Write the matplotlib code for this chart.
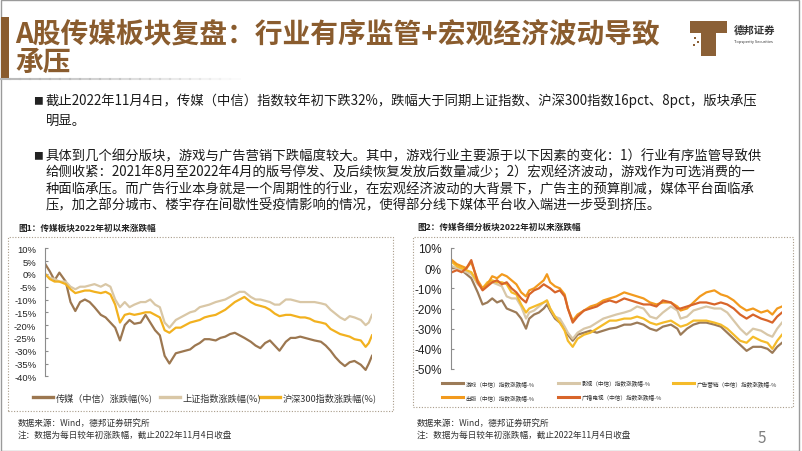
import matplotlib
matplotlib.use('Agg')
import matplotlib.pyplot as plt
from matplotlib.patches import Rectangle
from matplotlib.lines import Line2D

plt.rcParams['font.family'] = ['Noto Sans CJK SC', 'DejaVu Sans']

W, H = 802, 452
BROWN = '#8a5c2e'

# ---- chart 1: trading-day index since 2022-01-04, return since year start (%)
days1 = [0, 3, 6, 9, 13, 16, 19, 22, 25, 28, 31, 35, 38, 41, 44, 47, 50, 53, 56, 60,
         63, 66, 69, 72, 75, 78, 82, 85, 88, 91, 94, 97, 100, 103, 107, 110, 113, 116, 119, 122,
         125, 129, 132, 135, 138, 141, 144, 147, 151, 154, 157, 160, 163, 166, 169, 173, 176, 179, 182, 185,
         188, 191, 194, 198, 201, 203, 205]
media = [4, 1, -2.5, 0.5, -3, -11, -14.5, -11, -10, -11, -13, -16, -17, -19, -21, -26, -20, -18, -19.5, -19,
         -16, -19, -22, -24, -32, -35, -31, -30.5, -30, -29.5, -28, -27, -25.5, -25.5, -26, -25, -24.5, -23.5, -23, -24,
         -25, -26.5, -28, -29, -27, -26, -28, -30, -26.5, -25, -25, -24.5, -25, -25.5, -26, -26.5, -28, -30, -32.5, -34.5,
         -36, -34.5, -34, -35.5, -37.5, -35, -32]
sse = [0, -1.5, -2, -3, -3, -5, -6, -5, -5, -4.5, -4, -5, -4, -5, -10, -13, -11, -13, -12, -11,
       -11, -10, -12, -13, -19, -21, -18, -17, -16, -15, -14.5, -13, -12.5, -12, -11, -10.5, -10, -9, -8, -7,
       -7, -9, -10, -10, -10.5, -11, -12, -12, -10, -10, -10.5, -11, -11, -11, -11, -11.5, -12, -14, -15.5, -17,
       -18, -16.5, -17, -18, -20, -19, -16]
csi300 = [0, -2, -3, -3, -4, -6, -7.5, -7, -6.5, -6.5, -7, -7.5, -7, -8, -12, -19, -16, -15.5, -16, -15.5,
          -15, -15, -16, -17, -22, -23, -21, -21, -20, -19, -18.5, -18, -17, -16.5, -16, -15, -14, -12.5, -11, -10,
          -9, -11, -12, -12.5, -13, -14, -15.5, -16.5, -16, -16, -16.5, -17, -17, -17.5, -18.5, -19, -19.5, -21.5, -22.5, -23.5,
          -24, -24.5, -25.5, -26, -28.5, -27, -24]
labels1 = ['传媒（中信）涨跌幅(%)', '上证指数涨跌幅(%)', '沪深300指数涨跌幅(%)']
colors1 = ['#9c7750', '#d9c7a6', '#f2b11f']
yticks1 = [10, 5, 0, -5, -10, -15, -20, -25, -30, -35, -40]

# ---- chart 2: sub-sectors
days2 = [0, 3, 6, 9, 12, 16, 19, 22, 25, 28, 31, 34, 37, 40, 43, 46, 48, 51, 54, 57,
         59, 61, 64, 67, 70, 72, 75, 78, 82, 86, 90, 94, 98, 102, 107, 111, 115, 119, 123, 127,
         131, 136, 140, 142, 146, 150, 154, 158, 163, 167, 171, 175, 179, 183, 187, 192, 196, 199, 202, 205]
game = [0, 0, -1, -3, -5, -12, -18, -17, -15, -17, -16, -20, -21, -22, -25, -30, -25, -23, -22, -20,
        -18, -21, -25, -27, -30, -33, -36, -33, -32, -31, -32, -31, -30, -29.5, -28, -28, -27, -28, -30, -31,
        -29, -28, -30, -33, -30, -28, -27, -27, -28, -29, -32, -35, -38, -41, -39, -39, -40, -42, -39, -37]
film = [1, 0, -1, -2, -3, -8, -10, -8, -7, -8, -9, -14, -15, -15, -19, -25, -22, -21, -19, -17,
        -16, -20, -24, -25, -29, -32, -35, -32, -30, -29, -27, -25, -24, -23, -22, -21, -19, -20, -24, -25,
        -22, -19, -21, -25, -24, -21, -20, -19, -20, -20, -22, -26, -30, -33, -30, -31, -33, -34, -30, -27]
advert = [3, 1, 0, -1, -2, -7, -10, -7, -6, -7, -7, -8, -12, -13, -18, -22, -20, -19, -18, -17,
          -16, -20, -24, -27, -31, -36, -39, -35, -33, -32, -30, -28, -26, -26, -25, -25, -24, -25, -27, -28,
          -27, -26, -28, -29, -28, -26, -26, -26, -27, -28, -30, -33, -36, -37, -34, -36, -37, -40, -36, -33]
publish = [4, 2, 1, 0, 3, -6, -10, -8, -4, -5, -3, -4, -6, -8, -12, -14, -11, -10, -8, -6,
           -3, -7, -9, -10, -13, -20, -26, -23, -21, -19, -18, -16, -15, -14, -12, -13, -14, -15, -17, -18,
           -17, -17, -19, -21, -20, -17, -14, -12, -11, -13, -14, -16, -19, -21, -20, -22, -21, -23, -20, -19]
broadcast = [-2, -1, -2, 0, 4, -7, -11, -9, -7, -6, -8, -7, -10, -12, -15, -17, -13, -11, -10, -8,
             -9, -10, -12, -11, -14, -20, -27, -24, -21, -20, -19, -17, -16, -17, -15, -16, -17, -18, -18, -19,
             -16, -17, -20, -20, -19, -18, -17, -17, -18, -17, -18, -20, -23, -25, -23, -25, -26, -27, -24, -22]
labels2 = ['游戏（中信）指数涨跌幅-%', '影视（中信）指数涨跌幅-%', '广告营销（中信）指数涨跌幅-%',
           '出版（中信）指数涨跌幅-%', '广播电视（中信）指数涨跌幅-%']
colors2 = ['#9c7b58', '#d8c7a8', '#f5bb2a', '#f29a1e', '#d8652a']
yticks2 = [10, 0, -10, -20, -30, -40, -50]

bullet1 = ['截止2022年11月4日，传媒（中信）指数较年初下跌32%，跌幅大于同期上证指数、沪深300指数16pct、8pct，版块承压',
           '明显。']
bullet2 = ['具体到几个细分版块，游戏与广告营销下跌幅度较大。其中，游戏行业主要源于以下因素的变化：1）行业有序监管导致供',
           '给侧收紧：2021年8月至2022年4月的版号停发、及后续恢复发放后数量减少；2）宏观经济波动，游戏作为可选消费的一',
           '种面临承压。而广告行业本身就是一个周期性的行业，在宏观经济波动的大背景下，广告主的预算削减，媒体平台面临承',
           '压，加之部分城市、楼宇存在间歇性受疫情影响的情况，使得部分线下媒体平台收入端进一步受到挤压。']

fig = plt.figure(figsize=(8.02, 4.52), dpi=100)


def fx(x):
    return x / W


def fy(y):
    return 1 - y / H


def axes_px(x0, y0, x1, y1):
    return fig.add_axes([fx(x0), fy(y1), (x1 - x0) / W, (y1 - y0) / H])


def rect_px(x0, y0, x1, y1, **kw):
    fig.patches.append(Rectangle((fx(x0), fy(y1)), (x1 - x0) / W, (y1 - y0) / H,
                                 transform=fig.transFigure, figure=fig, **kw))


def legend_item(x, y, color, label, size, ln=20, lw=2.2):
    fig.add_artist(Line2D([fx(x), fx(x + ln)], [fy(y), fy(y)], color=color, lw=lw,
                          transform=fig.transFigure))
    fig.text(fx(x + ln + 2.5), fy(y), label, fontsize=size, color='#333333', va='center')


# slide frame
rect_px(1, 0.5, 799, 451.5, fill=False, ec='#9a9a9a', lw=1)

# title
rect_px(1, 18, 9, 80, fc=BROWN, ec='none')
fig.text(fx(15), fy(34), 'A股传媒板块复盘：行业有序监管+宏观经济波动导致', fontsize=20,
         weight='bold', color=BROWN, va='center')
fig.text(fx(15), fy(63), '承压', fontsize=20, weight='bold', color=BROWN, va='center')
for i in range(24):
    fig.add_artist(Line2D([fx(i * 10), fx(i * 10 + 10)], [fy(80), fy(80)], color='#b8b8b8',
                          lw=1.5, alpha=1 - i / 24, transform=fig.transFigure))

# logo
rect_px(690, 22, 727, 34, fc='#8b6036', ec='none')
rect_px(701, 34, 716, 57, fc='#8b6036', ec='none')
for (lx, ly) in [(694, 38), (697, 42), (693, 45)]:
    rect_px(lx, ly, lx + 2, ly + 2, fc='#8b6036', ec='none')
fig.text(fx(734), fy(31), '德邦证券', fontsize=7.5, weight='bold', color='#333333', va='center')
fig.text(fx(734), fy(42), 'Topsperity Securities', fontsize=2.8, color='#333333', va='center')

# bullet text
fig.text(fx(33), fy(101), '■', fontsize=7, color='#222222', va='center')
for i, line in enumerate(bullet1):
    fig.text(fx(46), fy(101 + i * 20), line, fontsize=9.6, color='#1a1a1a', va='center')
fig.text(fx(33), fy(156), '■', fontsize=7, color='#222222', va='center')
for i, line in enumerate(bullet2):
    fig.text(fx(46), fy(156 + i * 16.5), line, fontsize=9.6, color='#1a1a1a', va='center')

# chart panels
for (x0, x1, title, boxr, boxb) in [(8, 18, '图1：传媒板块2022年初以来涨跌幅', 393, 412),
                                    (413, 417, '图2：传媒各细分板块2022年初以来涨跌幅', 793, 408)]:
    fig.text(fx(x1), fy(228), title, fontsize=6.2, weight='bold', color='#222222', va='center')
    rect_px(x0, 238, boxr, boxb, fill=False, ec='#a99c8a', lw=0.8, ls=(0, (1, 1.5)))
    fig.text(fx(x1), fy(423), '数据来源：Wind，德邦证券研究所', fontsize=6.2, color='#333333', va='center')
    fig.text(fx(x1), fy(435), '注：数据为每日较年初涨跌幅，截止2022年11月4日收盘', fontsize=6.2,
             color='#333333', va='center')


def style_axis(ax, yticks, size, pad):
    for s in ['top', 'right', 'bottom']:
        ax.spines[s].set_visible(False)
    ax.spines['left'].set_color('#8c8c8c')
    ax.spines['left'].set_linewidth(0.8)
    ax.set_xticks([])
    ax.set_yticks(yticks)
    ax.set_yticklabels([f'{v}%' for v in yticks], fontfamily='Liberation Sans', fontsize=size,
                       color='#222222')
    ax.tick_params(axis='y', direction='in', length=2.5, width=0.8, color='#8c8c8c', pad=pad)
    ax.set_facecolor('none')


# chart 1
ax1 = axes_px(45, 249.3, 372, 377.3)
for series, c in zip([media, sse, csi300], colors1):
    ax1.plot(days1, series, color=c, lw=1.6)
ax1.set_xlim(0, 205)
ax1.set_ylim(-40, 10)
style_axis(ax1, yticks1, 6.8, 6.3)
for (lx, lab, c) in zip([33, 160, 260], labels1, colors1):
    legend_item(lx, 398, c, lab, 6.6, ln=20, lw=2.4)

# chart 2
ax2 = axes_px(451, 249, 782, 370)
for series, c in zip([game, film, advert, publish, broadcast], colors2):
    ax2.plot(days2, series, color=c, lw=1.6)
ax2.set_xlim(-0.6, 205)
ax2.set_ylim(-50, 10)
style_axis(ax2, yticks2, 8.5, 6.6)
for (lx, ly), lab, c in zip([(442, 384), (558, 384), (673, 384), (442, 398), (558, 398)],
                            labels2, colors2):
    legend_item(lx, ly, c, lab, 4.1, ln=21, lw=2.2)

fig.text(fx(758), fy(439), '5', fontsize=11, color='#7f7f7f', va='center')

fig.savefig('out.png', dpi=100)
